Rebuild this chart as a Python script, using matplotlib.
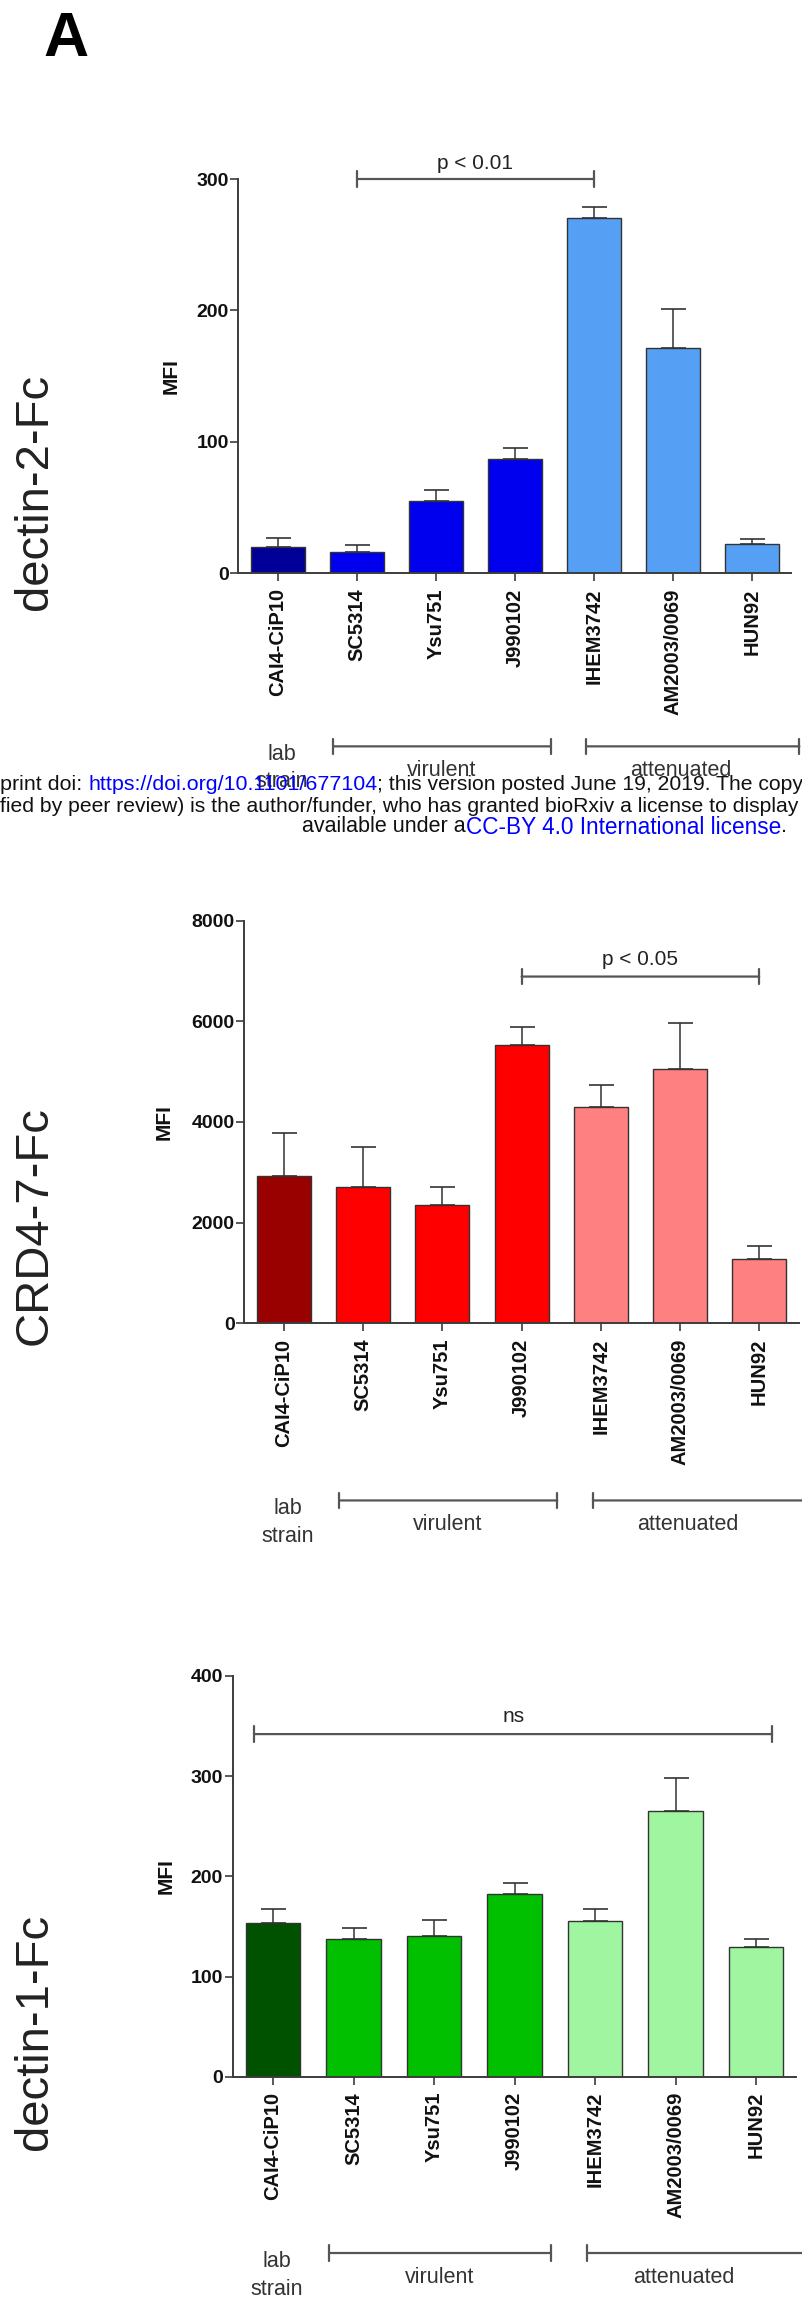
import numpy as np
import matplotlib
matplotlib.use('Agg')
import matplotlib.pyplot as plt

# strains, same order in every panel
strains = ['CAI4-CiP10', 'SC5314', 'Ysu751', 'J990102', 'IHEM3742', 'AM2003/0069', 'HUN92']

# MFI mean and upper error
dectin2_mfi = [20, 16, 55, 87, 270, 171, 22]
dectin2_err = [6.5, 5, 8, 8, 9, 30, 4]
crd47_mfi = [2930, 2700, 2350, 5530, 4290, 5050, 1270]
crd47_err = [850, 800, 365, 365, 440, 915, 270]
dectin1_mfi = [153, 137.5, 140, 182, 155, 265, 129]
dectin1_err = [14, 10.5, 16, 11, 12, 33, 8]

# significance annotations: (from strain, to strain, label)
dectin2_sig = (1, 4, 'p < 0.01')
crd47_sig = (3, 6, 'p < 0.05')
dectin1_sig = (-0.23, 6.2, 'ns')

W, H = 803, 2302
plt.rcParams['font.family'] = ['Liberation Sans', 'DejaVu Sans']
fig = plt.figure(figsize=(W / 100, H / 100), dpi=100)
fig.patch.set_facecolor('white')


def box(left, top, right, bottom):
    # pixel box -> figure fraction rect
    return [left / W, 1 - bottom / H, (right - left) / W, (bottom - top) / H]


panels = [
    dict(name='dectin-2-Fc', mfi=dectin2_mfi, err=dectin2_err, sig=dectin2_sig,
         colors=['#000099', '#0000ee', '#0000ee', '#0000ee', '#55a0f5', '#55a0f5', '#55a0f5'],
         ymax=300, yticks=[0, 100, 200, 300], rect=box(238.5, 179, 791.5, 573),
         name_y=492, sig_y=300, sig_ty=312, mfi_x=-0.121),
    dict(name='CRD4-7-Fc', mfi=crd47_mfi, err=crd47_err, sig=crd47_sig,
         colors=['#990000', '#ff0000', '#ff0000', '#ff0000', '#ff8080', '#ff8080', '#ff8080'],
         ymax=8000, yticks=[0, 2000, 4000, 6000, 8000], rect=box(244.4, 920.7, 798.8, 1323.3),
         name_y=1226, sig_y=6890, sig_ty=7223, mfi_x=-0.145),
    dict(name='dectin-1-Fc', mfi=dectin1_mfi, err=dectin1_err, sig=dectin1_sig,
         colors=['#005200', '#00c000', '#00c000', '#00c000', '#a0f5a0', '#a0f5a0', '#a0f5a0'],
         ymax=400, yticks=[0, 100, 200, 300, 400], rect=box(232.75, 1676, 796.25, 2076.7),
         name_y=2032, sig_y=342, sig_ty=360, mfi_x=-0.118),
]

line_c = '#3c3c3c'
bracket = dict(arrowstyle='|-|, widthA=0.55, widthB=0.55', color='#555555', lw=1.6,
               shrinkA=0, shrinkB=0)

for p in panels:
    ax = fig.add_axes(p['rect'])
    x = np.arange(len(strains))
    ax.bar(x, p['mfi'], width=0.68, color=p['colors'], edgecolor='#333333',
           linewidth=1.0, zorder=2)
    ax.errorbar(x, p['mfi'], yerr=[np.zeros(len(x)), p['err']], fmt='none',
                ecolor='#333333', elinewidth=1.1, capsize=9, capthick=1.2, zorder=1)

    ax.set_xlim(-0.5, 6.5)
    ax.set_ylim(0, p['ymax'])
    for s in ['top', 'right']:
        ax.spines[s].set_visible(False)
    for s in ['left', 'bottom']:
        ax.spines[s].set_color(line_c)
        ax.spines[s].set_linewidth(1.4)

    ax.set_xticks(x)
    ax.set_xticklabels(strains, rotation=90, fontweight='bold', fontsize=14.5, color='#111111')
    ax.set_yticks(p['yticks'])
    ax.set_yticklabels([str(t) for t in p['yticks']], fontweight='bold', fontsize=14,
                       color='#111111')
    ax.tick_params(axis='x', length=6, width=1.2, pad=5, color=line_c)
    ax.tick_params(axis='y', length=6, width=1.2, pad=1, color=line_c)

    ax.text(p['mfi_x'], 0.5, 'MFI', transform=ax.transAxes, rotation=90,
            ha='center', va='center', fontweight='bold', fontsize=15, color='#111111')

    # significance bar above the bars
    a, b, lab = p['sig']
    ax.annotate('', xy=(a, p['sig_y']), xytext=(b, p['sig_y']), arrowprops=bracket,
                annotation_clip=False)
    ax.text((a + b) / 2, p['sig_ty'], lab, ha='center', va='center', fontsize=15,
            color='#222222', clip_on=False)

    # strain groups under the tick labels
    tr = ax.get_xaxis_transform()
    ax.annotate('', xy=(0.7, -0.44), xytext=(3.45, -0.44), xycoords=tr, textcoords=tr,
                arrowprops=bracket, annotation_clip=False)
    ax.annotate('', xy=(3.9, -0.44), xytext=(6.6, -0.44), xycoords=tr, textcoords=tr,
                arrowprops=bracket, annotation_clip=False)
    ax.text(0.05, -0.46, 'lab', transform=tr, ha='center', va='center', fontsize=15.5, color='#333333')
    ax.text(0.05, -0.53, 'strain', transform=tr, ha='center', va='center', fontsize=15.5, color='#333333')
    ax.text(2.07, -0.50, 'virulent', transform=tr, ha='center', va='center', fontsize=15.5, color='#333333')
    ax.text(5.1, -0.50, 'attenuated', transform=tr, ha='center', va='center', fontsize=15.5, color='#333333')

    # row label on the left
    fig.text(35 / W, 1 - p['name_y'] / H, p['name'], rotation=90, ha='center', va='center',
             fontsize=34, color='#222222')

fig.text(66 / W, 1 - 40 / H, 'A', ha='center', va='center', fontsize=45, fontweight='bold')


def multicolor(parts, x_px, y_px):
    r = fig.canvas.get_renderer()
    for s, c, fs in parts:
        t = fig.text(x_px / W, 1 - y_px / H, s, color=c, fontsize=fs, ha='left', va='center')
        x_px = t.get_window_extent(r).x1


# bioRxiv watermark crossing the first panel
blk, blu = '#111111', '#0000ff'
multicolor([('print doi: ', blk, 15.4), ('https://doi.org/10.1101/677104', blu, 15.4),
            ('; this version posted June 19, 2019. The copy', blk, 15.2)], 0, 785)
multicolor([('fied by peer review) is the author/funder, who has granted bioRxiv a license to display', blk, 15.2)],
           0, 806)
multicolor([('available under a', blk, 15.5), ('CC-BY 4.0 International license', blu, 16.3),
            ('.', blk, 15.5)], 302, 827)

fig.savefig('out.png', dpi=100, facecolor='white')
